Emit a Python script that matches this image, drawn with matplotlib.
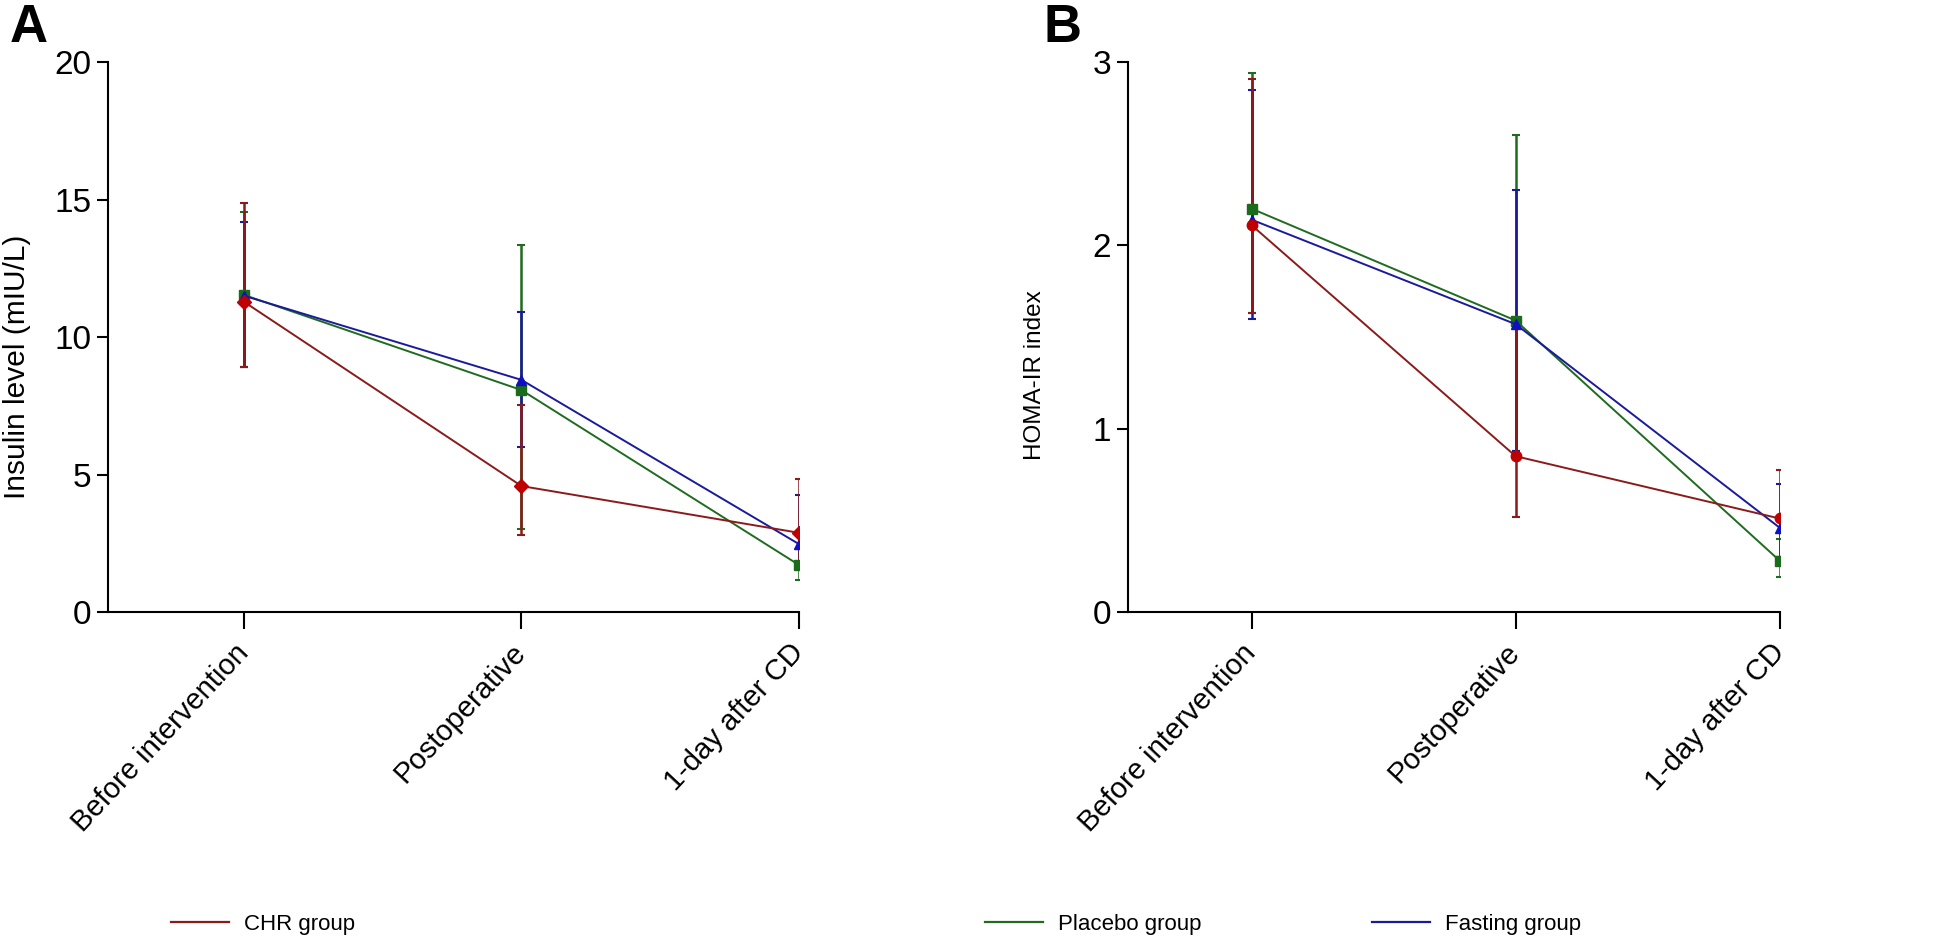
import numpy as np
import matplotlib
matplotlib.use("Agg")
from matplotlib import pyplot as plt
from matplotlib.lines import Line2D

plt.rcParams['font.family'] = ['Liberation Sans', 'DejaVu Sans']

timepoints = ['Before intervention', 'Postoperative', '1-day after CD']
groups = ['CHR group', 'Placebo group', 'Fasting group']

# panel A: insulin level (mIU/L), mean and error bar ends
insulin_chr = [11.28, 4.58, 2.88]
insulin_chr_lo = [8.92, 2.80, 1.75]
insulin_chr_hi = [14.86, 7.53, 4.83]
insulin_placebo = [11.53, 8.07, 1.71]
insulin_placebo_lo = [8.92, 3.00, 1.16]
insulin_placebo_hi = [14.56, 13.33, 2.30]
insulin_fasting = [11.50, 8.44, 2.47]
insulin_fasting_lo = [8.92, 6.00, 1.75]
insulin_fasting_hi = [14.19, 10.90, 4.25]

# panel B: HOMA-IR index
homa_chr = [2.11, 0.85, 0.51]
homa_chr_lo = [1.63, 0.52, 0.30]
homa_chr_hi = [2.91, 1.55, 0.775]
homa_placebo = [2.20, 1.59, 0.28]
homa_placebo_lo = [1.63, 0.88, 0.19]
homa_placebo_hi = [2.94, 2.60, 0.40]
homa_fasting = [2.14, 1.57, 0.46]
homa_fasting_lo = [1.60, 0.88, 0.30]
homa_fasting_hi = [2.85, 2.30, 0.70]

line_colors = ['#8b1a1a', '#1f6b1f', '#1a1a9c']
marker_colors = ['#c00000', '#1a6b1a', '#1010c0']

fig = plt.figure(figsize=(19.43, 9.44), dpi=100)
axA = fig.add_axes([0.0556, 0.3517, 0.3556, 0.5826])
axB = fig.add_axes([0.5803, 0.3517, 0.3356, 0.5826])

x = np.arange(len(timepoints))


def draw(ax, series, markers, ylim, yticks, ylabel, xlim, ylab_size, ylab_xy):
    # placebo at the bottom, then fasting, CHR on top
    for z, i in enumerate([1, 2, 0]):
        mean, lo, hi = series[i]
        mean = np.array(mean)
        err = [mean - np.array(lo), np.array(hi) - mean]
        ax.errorbar(x, mean, yerr=err, fmt='none', ecolor=line_colors[i],
                    elinewidth=1.8, capsize=3, capthick=1.5, zorder=2 + z)
        ax.plot(x, mean, color=line_colors[i], lw=1.4, marker=markers[i],
                ms=7.5, mfc=marker_colors[i], mec=marker_colors[i], zorder=5 + z)
    ax.set_xlim(*xlim)
    ax.set_ylim(*ylim)
    ax.set_yticks(yticks)
    ax.set_xticks(x)
    ax.tick_params(axis='y', labelsize=24, length=8, width=1.5, pad=4)
    ax.tick_params(axis='x', length=12, width=1.5, pad=14)
    ax.set_xticklabels(timepoints, rotation=47, ha='right', va='center',
                       rotation_mode='anchor', fontsize=21)
    ax.set_ylabel(ylabel, fontsize=ylab_size)
    ax.yaxis.set_label_coords(*ylab_xy)
    for s in ['top', 'right']:
        ax.spines[s].set_visible(False)
    for s in ['left', 'bottom']:
        ax.spines[s].set_linewidth(1.5)


draw(axA,
     [(insulin_chr, insulin_chr_lo, insulin_chr_hi),
      (insulin_placebo, insulin_placebo_lo, insulin_placebo_hi),
      (insulin_fasting, insulin_fasting_lo, insulin_fasting_hi)],
     ['D', 's', '^'], (0, 20), [0, 5, 10, 15, 20], 'Insulin level (mIU/L)',
     (-0.49, 2.0), 21.5, (-0.111, 0.445))
draw(axB,
     [(homa_chr, homa_chr_lo, homa_chr_hi),
      (homa_placebo, homa_placebo_lo, homa_placebo_hi),
      (homa_fasting, homa_fasting_lo, homa_fasting_hi)],
     ['o', 's', '^'], (0, 3), [0, 1, 2, 3], 'HOMA-IR index',
     (-0.47, 2.0), 17.5, (-0.125, 0.43))

fig.text(0.005, 0.997, 'A', fontsize=38, fontweight='bold', va='top')
fig.text(0.537, 0.997, 'B', fontsize=38, fontweight='bold', va='top')

# legend entries spread across the bottom
leg_x = [0.088, 0.507, 0.706]
for i, g in enumerate(groups):
    h = Line2D([], [], color=line_colors[i], lw=1.6)
    fig.legend([h], [g], loc='center left', bbox_to_anchor=(leg_x[i], 0.021),
               frameon=False, fontsize=16, handlelength=2.6, handletextpad=0.7,
               borderaxespad=0, borderpad=0)

fig.savefig('out.png', dpi=100, facecolor='white')
